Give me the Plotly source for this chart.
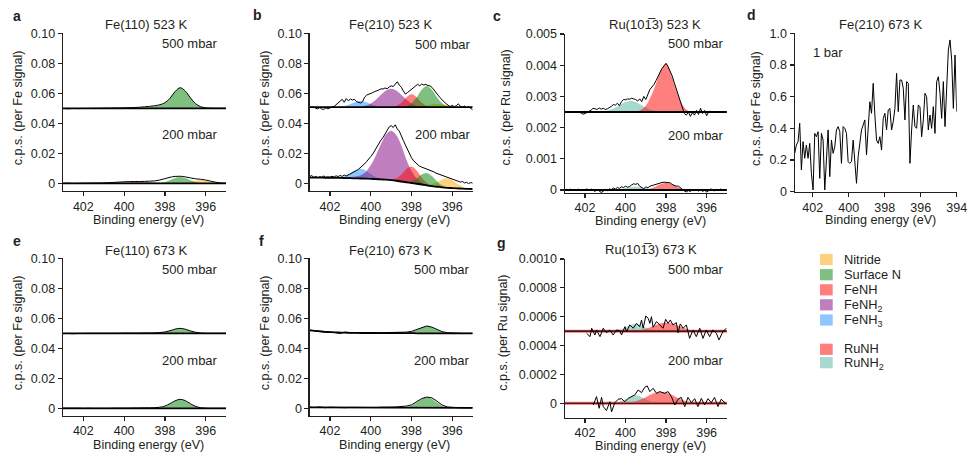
import plotly.graph_objects as go

W, H = 977, 453
FONT = "Liberation Sans, Arial, Helvetica, sans-serif"
INK = "#231F20"

# ---------------------------------------------------------------- data
E_FIT = [403.0, 402.75, 402.5, 402.25, 402.0, 401.75, 401.5, 401.25, 401.0, 400.75,
         400.5, 400.25, 400.0, 399.75, 399.5, 399.25, 399.0, 398.75, 398.5, 398.25,
         398.0, 397.75, 397.5, 397.25, 397.0, 396.75, 396.5, 396.25, 396.0, 395.75,
         395.5, 395.25, 395.0]
E_FINE = [round(403.0 - 0.1 * i, 1) for i in range(81)]

# (a) Fe(110) 523 K
a500_base = 0.0500
a500_surfN = [0, 0, 0, 0, 0, 0, 0, 0, 0, 0, 0, 0, 0, 0, 0, 0.0003, 0.0006, 0.0009, 0.0013, 0.0022,
              0.0035, 0.0066, 0.0113, 0.0137, 0.0115, 0.0069, 0.0029, 0.0009, 0.0002, 0, 0, 0, 0]
a500_data = [0.0499, 0.0497, 0.0499, 0.0498, 0.0499, 0.0499, 0.0500, 0.0500, 0.0501, 0.0501,
             0.0502, 0.0502, 0.0503, 0.0504, 0.0505, 0.0507, 0.0510, 0.0513, 0.0517, 0.0524,
             0.0537, 0.0567, 0.0612, 0.0637, 0.0615, 0.0570, 0.0531, 0.0511, 0.0503, 0.0501,
             0.0500, 0.0500, 0.0500]
a200_base = 0.0
a200_feNH2 = [0, 0, 0, 0, 0, 0, 0, 0, 0.00004, 0.00009, 0.00018, 0.00034, 0.00054, 0.00076,
              0.00093, 0.0010, 0.00093, 0.00076, 0.00054, 0.00034, 0.00018, 0.00009, 0.00004,
              0, 0, 0, 0, 0, 0, 0, 0, 0, 0]
a200_surfN = [0, 0, 0, 0, 0, 0, 0, 0, 0, 0, 0, 0, 0, 0, 0, 0, 0, 0, 0.00005, 0.00026, 0.00088,
              0.0021, 0.0035, 0.0042, 0.0035, 0.0021, 0.00088, 0.00026, 0.00005, 0, 0, 0, 0]
a200_nitride = [0, 0, 0, 0, 0, 0, 0, 0, 0, 0, 0, 0, 0, 0, 0, 0, 0, 0, 0, 0, 0, 0, 0.00003,
                0.00014, 0.00046, 0.0011, 0.00185, 0.0022, 0.00185, 0.0011, 0.00046, 0.00014, 0.00003]
a200_data = [0.0000, 0.0001, -0.0001, 0.0000, 0.0001, 0.0001, 0.0002, 0.0002, 0.0003, 0.0004,
             0.0006, 0.0008, 0.0010, 0.0011, 0.0012, 0.0012, 0.0013, 0.0014, 0.0016, 0.0022,
             0.0031, 0.0040, 0.0046, 0.0047, 0.0043, 0.0036, 0.0030, 0.0027, 0.0022, 0.0014,
             0.0007, 0.0002, 0.0001]

# (b) Fe(210) 523 K
b500_base = 0.0508
b500_feNH3 = [0, 0, 0, 0, 0, 0.00005, 0.00025, 0.00084, 0.0020, 0.00336, 0.0040, 0.00336, 0.0020,
              0.00084, 0.00025, 0.00005, 0, 0, 0, 0, 0, 0, 0, 0, 0, 0, 0, 0, 0, 0, 0, 0, 0]
b500_feNH2 = [0, 0, 0, 0, 0, 0, 0, 0, 0, 0.00009, 0.0003, 0.00095, 0.0024, 0.0049, 0.0082, 0.0111,
              0.0123, 0.0111, 0.0082, 0.0049, 0.0024, 0.00095, 0.0003, 0.00009, 0, 0, 0, 0, 0, 0, 0, 0, 0]
b500_feNH = [0, 0, 0, 0, 0, 0, 0, 0, 0, 0, 0, 0, 0, 0, 0, 0, 0.00011, 0.00074, 0.0029, 0.0065,
             0.0085, 0.0065, 0.0029, 0.00074, 0.00011, 0, 0, 0, 0, 0, 0, 0, 0]
b500_surfN = [0, 0, 0, 0, 0, 0, 0, 0, 0, 0, 0, 0, 0, 0, 0, 0, 0, 0, 0.00012, 0.00064, 0.0025,
              0.0065, 0.01155, 0.0140, 0.01155, 0.0065, 0.0025, 0.00064, 0.00012, 0, 0, 0, 0]
b500_nitride = [0, 0, 0, 0, 0, 0, 0, 0, 0, 0, 0, 0, 0, 0, 0, 0, 0, 0, 0, 0, 0.0001, 0.00029,
                0.00068, 0.00124, 0.00177, 0.0020, 0.00177, 0.00124, 0.00068, 0.00029, 0.0001, 0, 0]
b500_data = [0.0507, 0.0505, 0.0508, 0.0500, 0.0496, 0.0505, 0.0495, 0.0493, 0.0503, 0.0496,
             0.0505, 0.0509, 0.0512, 0.0524, 0.0532, 0.0545, 0.0560, 0.0540, 0.0565, 0.0550,
             0.0562, 0.0555, 0.0560, 0.0545, 0.0538, 0.0535, 0.0545, 0.0575, 0.0588, 0.0592,
             0.0600, 0.0605, 0.0612, 0.0615, 0.0622, 0.0630, 0.0628, 0.0636, 0.0630, 0.0642,
             0.0650, 0.0645, 0.0660, 0.0677, 0.0655, 0.0640, 0.0615, 0.0595, 0.0605, 0.0615,
             0.0628, 0.0638, 0.0648, 0.0660, 0.0650, 0.0662, 0.0655, 0.0660, 0.0652, 0.0650,
             0.0640, 0.0625, 0.0605, 0.0588, 0.0570, 0.0556, 0.0540, 0.0530, 0.0520, 0.0512,
             0.0520, 0.0510, 0.0518, 0.0530, 0.0512, 0.0508, 0.0515, 0.0505, 0.0510, 0.0502,
             0.0490]
b200_base = [0.0038, 0.0038, 0.0038, 0.0037, 0.0037, 0.0036, 0.0036, 0.0035, 0.0034, 0.0033,
             0.0032, 0.0031, 0.0030, 0.0028, 0.0026, 0.0024, 0.0021, 0.0017, 0.0012, 0.0007,
             0.0002, -0.0003, -0.0008, -0.0014, -0.0019, -0.0023, -0.0027, -0.0030, -0.0032,
             -0.0034, -0.0036, -0.0037, -0.0038]
b200_feNH3 = [0, 0, 0, 0, 0, 0.0001, 0.0004, 0.0014, 0.00325, 0.0055, 0.0065, 0.0055, 0.00325,
              0.0014, 0.0004, 0.0001, 0, 0, 0, 0, 0, 0, 0, 0, 0, 0, 0, 0, 0, 0, 0, 0, 0]
b200_feNH2 = [0.0006, 0.0006, 0.0006, 0.0006, 0.0006, 0.0006, 0.0006, 0.0006, 0.0008, 0.0012,
              0.0022, 0.0045, 0.0090, 0.0158, 0.0236, 0.0302, 0.0330, 0.0305, 0.0240, 0.0150,
              0.0080, 0.0035, 0.0012, 0.0004, 0.0001, 0, 0, 0, 0, 0, 0, 0, 0]
b200_feNH = [0, 0, 0, 0, 0, 0, 0, 0, 0, 0, 0, 0, 0, 0, 0, 0.00005, 0.00036, 0.0016, 0.0047, 0.0089,
             0.0110, 0.0089, 0.0047, 0.0016, 0.00036, 0.00005, 0, 0, 0, 0, 0, 0, 0]
b200_surfN = [0, 0, 0, 0, 0, 0, 0, 0, 0, 0, 0, 0, 0, 0, 0, 0, 0, 0, 0.00004, 0.00027, 0.0012,
              0.0035, 0.0067, 0.0083, 0.0067, 0.0035, 0.0012, 0.00027, 0.00004, 0, 0, 0, 0]
b200_nitride = [0, 0, 0, 0, 0, 0, 0, 0, 0, 0, 0, 0, 0, 0, 0, 0, 0, 0, 0, 0, 0, 0, 0.00008, 0.0004,
                0.0013, 0.00315, 0.0053, 0.0063, 0.0053, 0.00315, 0.0013, 0.0004, 0.00008]
b200_data = [0.0045, 0.0052, 0.0040, 0.0046, 0.0038, 0.0044, 0.0041, 0.0049, 0.0039, 0.0043,
             0.0040, 0.0047, 0.0042, 0.0050, 0.0045, 0.0052, 0.0046, 0.0055, 0.0049, 0.0056,
             0.0060, 0.0066, 0.0075, 0.0085, 0.0094, 0.0105, 0.0115, 0.0130, 0.0146, 0.0160,
             0.0178, 0.0196, 0.0220, 0.0242, 0.0262, 0.0288, 0.0305, 0.0330, 0.0352, 0.0375,
             0.0385, 0.0372, 0.0390, 0.0362, 0.0348, 0.0310, 0.0285, 0.0255, 0.0225, 0.0195,
             0.0170, 0.0150, 0.0136, 0.0125, 0.0113, 0.0108, 0.0103, 0.0100, 0.0094, 0.0088,
             0.0080, 0.0076, 0.0068, 0.0063, 0.0058, 0.0052, 0.0046, 0.0042, 0.0040, 0.0034,
             0.0030, 0.0026, 0.0018, 0.0015, 0.0008, 0.0012, 0.0002, 0.0007, -0.0002, 0.0005,
             0.0001]

# (c) Ru(10-13) 523 K
c500_base = 0.0025
c500_ruNH = [0, 0, 0, 0, 0, 0, 0, 0, 0, 0, 0, 0, 0, 0, 0.00001, 0.00006, 0.0002, 0.0005, 0.0009,
             0.00135, 0.00155, 0.0012, 0.0007, 0.0003, 0.00008, 0.00001, 0, 0, 0, 0, 0, 0, 0]
c500_ruNH2 = [0, 0, 0, 0, 0, 0, 0, 0, 0.00003, 0.00007, 0.00014, 0.00023, 0.00032, 0.00035,
              0.00032, 0.00023, 0.00014, 0.00007, 0.00003, 0, 0, 0, 0, 0, 0, 0, 0, 0, 0, 0, 0, 0, 0]
c500_data = [0.00250, 0.00250, 0.00251, 0.00250, 0.00250, 0.00249, 0.00250, 0.00250, 0.00247,
             0.00243, 0.00245, 0.00250, 0.00252, 0.00256, 0.00262, 0.00260, 0.00258, 0.00263,
             0.00259, 0.00262, 0.00258, 0.00260, 0.00263, 0.00268, 0.00274, 0.00272, 0.00278,
             0.00270, 0.00283, 0.00290, 0.00289, 0.00292, 0.00291, 0.00294, 0.00292, 0.00290,
             0.00285, 0.00292, 0.00283, 0.00300, 0.00290, 0.00305, 0.00322, 0.00330, 0.00338,
             0.00350, 0.00365, 0.00378, 0.00390, 0.00398, 0.00406, 0.00395, 0.00380, 0.00366,
             0.00345, 0.00326, 0.00300, 0.00282, 0.00262, 0.00245, 0.00240, 0.00250, 0.00236,
             0.00248, 0.00240, 0.00255, 0.00242, 0.00262, 0.00245, 0.00255, 0.00238, 0.00250,
             0.00252, 0.00249, 0.00251, 0.00250, 0.00249, 0.00251, 0.00250, 0.00250, 0.00250]
c200_base = 0.0
c200_ruNH = [0, 0, 0, 0, 0, 0, 0, 0, 0, 0, 0, 0, 0, 0, 0, 0, 0.000014, 0.00005, 0.000115, 0.00019,
             0.00023, 0.00019, 0.000115, 0.00005, 0.000014, 0, 0, 0, 0, 0, 0, 0, 0]
c200_ruNH2 = [0, 0, 0, 0, 0, 0, 0, 0, 0, 0, 0.000015, 0.00003, 0.00006, 0.00009, 0.0001, 0.00009,
              0.00006, 0.00003, 0.000015, 0, 0, 0, 0, 0, 0, 0, 0, 0, 0, 0, 0, 0, 0]
c200_data = [0.00000, 0.00002, -0.00002, 0.00003, -0.00001, 0.00002, 0.00000, 0.00003, -0.00002,
             0.00001, -0.00002, 0.00004, -0.00002, 0.00003, 0.00000, -0.00005, 0.00002, -0.00003,
             -0.00008, -0.00004, 0.00002, -0.00003, 0.00004, 0.00001, 0.00006, 0.00003, 0.00008,
             0.00005, 0.00010, 0.00008, 0.00012, 0.00009, 0.00011, 0.00016, 0.00020, 0.00018,
             0.00021, 0.00012, 0.00008, 0.00004, 0.00010, 0.00007, 0.00012, 0.00014, 0.00018,
             0.00020, 0.00022, 0.00023, 0.00024, 0.00025, 0.00024, 0.00022, 0.00023, 0.00018,
             0.00016, 0.00012, 0.00013, 0.00006, 0.00002, -0.00003, -0.00006, -0.00002, -0.00005,
             0.00002, -0.00002, 0.00001, -0.00004, 0.00003, -0.00005, 0.00000, -0.00007, -0.00002,
             0.00003, 0.00001, -0.00003, 0.00002, 0.00000, 0.00003, -0.00001, 0.00001, 0.00000]

# (d) Fe(210) 673 K, 1 bar
d_vals = [0.242, 0.295, 0.316, 0.432, 0.137, 0.316, 0.211, 0.295, 0.211, 0.305,
          0.116, 0.011, 0.368, 0.347, 0.379, 0.084, 0.368, 0.326, 0.011, 0.179,
          0.390, 0.095, 0.326, 0.242, 0.284, 0.390, 0.411, 0.379, 0.179, 0.411,
          0.400, 0.368, 0.190, 0.179, 0.190, 0.326, 0.179, 0.053, 0.221, 0.326,
          0.390, 0.421, 0.453, 0.232, 0.442, 0.568, 0.495, 0.684, 0.484, 0.326,
          0.305, 0.347, 0.263, 0.463, 0.495, 0.390, 0.516, 0.526, 0.390, 0.442,
          0.526, 0.747, 0.505, 0.705, 0.705, 0.653, 0.453, 0.695, 0.684, 0.179,
          0.390, 0.547, 0.411, 0.400, 0.547, 0.537, 0.347, 0.453, 0.621, 0.600,
          0.390, 0.484, 0.400, 0.537, 0.368, 0.695, 0.726, 0.621, 0.463, 0.695,
          0.411, 0.663, 0.895, 0.958, 0.832, 0.526, 0.863, 0.505]
d_E = [403.0 - 9.0 * i / (len(d_vals) - 1) for i in range(len(d_vals))]

# (e) Fe(110) 673 K
e500_base = 0.0500
e500_surfN = [0, 0, 0, 0, 0, 0, 0, 0, 0, 0, 0, 0, 0, 0, 0, 0.0001, 0.00015, 0.0002, 0.00004,
              0.0002, 0.0007, 0.00165, 0.00278, 0.0033, 0.00278, 0.00165, 0.0007, 0.0002, 0.00004,
              0, 0, 0, 0]
e500_data = [0.0498, 0.0499, 0.0497, 0.0499, 0.0499, 0.0500, 0.0500, 0.0500, 0.0500, 0.0500,
             0.0500, 0.0500, 0.0501, 0.0501, 0.0501, 0.0501, 0.0502, 0.0502, 0.0503, 0.0505,
             0.0509, 0.0517, 0.0528, 0.0533, 0.0527, 0.0516, 0.0507, 0.0502, 0.0500, 0.0500,
             0.0500, 0.0500, 0.0500]
e200_base = 0.0
e200_surfN = [0, 0, 0, 0, 0, 0, 0, 0, 0, 0, 0, 0, 0, 0, 0, 0, 0, 0, 0.00008, 0.00036, 0.00122,
              0.0029, 0.00488, 0.0058, 0.00488, 0.0029, 0.00122, 0.00036, 0.00008, 0, 0, 0, 0]
e200_data = [0.0001, 0.0001, 0.0001, 0.0001, 0.0000, 0.0001, 0.0000, 0.0000, 0.0000, 0.0000,
             0.0001, 0.0001, 0.0001, 0.0001, 0.0002, 0.0002, 0.0003, 0.0003, 0.0004, 0.0007,
             0.0015, 0.0031, 0.0050, 0.0060, 0.0051, 0.0031, 0.0013, 0.0004, 0.0001, 0.0000,
             0.0000, 0.0000, 0.0000]

# (f) Fe(210) 673 K
f500_base = [0.0520, 0.0516, 0.0513, 0.0510, 0.0508, 0.0506, 0.0505, 0.0504, 0.0503, 0.0503,
             0.0502, 0.0502, 0.0502, 0.0502, 0.0501, 0.0501, 0.0501, 0.0501, 0.0501, 0.0501,
             0.0501, 0.0500, 0.0500, 0.0500, 0.0500, 0.0500, 0.0500, 0.0500, 0.0500, 0.0500,
             0.0500, 0.0500, 0.0500]
f500_surfN = [0, 0, 0, 0, 0, 0, 0, 0, 0, 0, 0, 0, 0, 0, 0, 0, 0, 0, 0.00006, 0.0003, 0.0010,
              0.0024, 0.0040, 0.0048, 0.0040, 0.0024, 0.0010, 0.0003, 0.00006, 0, 0, 0, 0]
f500_data = [0.0521, 0.0515, 0.0514, 0.0509, 0.0508, 0.0505, 0.0499, 0.0508, 0.0503, 0.0504,
             0.0502, 0.0503, 0.0502, 0.0503, 0.0502, 0.0503, 0.0503, 0.0504, 0.0506, 0.0508,
             0.0513, 0.0525, 0.0541, 0.0549, 0.0541, 0.0525, 0.0511, 0.0504, 0.0501, 0.0501,
             0.0500, 0.0500, 0.0500]
f200_base = [0.0006, 0.0006, 0.0006, 0.0005, 0.0005, 0.0005, 0.0005, 0.0005, 0.0005, 0.0004,
             0.0004, 0.0004, 0.0004, 0.0004, 0.0004, 0.0004, 0.0004, 0.0004, 0.0004, 0.0004,
             0.0004, 0.0003, 0.0003, 0.0003, 0.0003, 0.0003, 0.0003, 0.0003, 0.0003, 0.0003,
             0.0003, 0.0003, 0.0003]
f200_surfN = [0, 0, 0, 0, 0, 0, 0, 0, 0, 0, 0, 0, 0, 0, 0, 0, 0, 0, 0.0001, 0.00044, 0.00147,
              0.0035, 0.0059, 0.0070, 0.0059, 0.0035, 0.00147, 0.00044, 0.0001, 0, 0, 0, 0]
f200_data = [0.0008, 0.0005, 0.0009, 0.0004, 0.0007, 0.0005, 0.0006, 0.0004, 0.0006, 0.0005,
             0.0007, 0.0005, 0.0006, 0.0005, 0.0007, 0.0006, 0.0008, 0.0009, 0.0011, 0.0015,
             0.0023, 0.0043, 0.0065, 0.0075, 0.0070, 0.0047, 0.0022, 0.0009, 0.0005, 0.0004,
             0.0003, 0.0004, 0.0003]

# (g) Ru(10-13) 673 K
g500_base = 0.0005
g500_ruNH = [0, 0, 0, 0, 0, 0, 0, 0, 0, 0, 0, 0, 0, 0.0000013, 0.0000036, 0.0000085, 0.000017,
             0.000029, 0.000043, 0.000054, 0.000058, 0.000054, 0.000043, 0.000029, 0.000017,
             0.0000085, 0.0000036, 0.0000013, 0, 0, 0, 0, 0]
g500_ruNH2 = [0, 0, 0, 0, 0, 0, 0, 0, 0, 0, 0.000003, 0.0000105, 0.000025, 0.000042, 0.00005,
              0.000042, 0.000025, 0.0000105, 0.000003, 0, 0, 0, 0, 0, 0, 0, 0, 0, 0, 0, 0, 0, 0]
g500_E = [401.92, 401.75, 401.67, 401.51, 401.43, 401.26, 401.10, 400.94, 400.77, 400.61,
          400.45, 400.28, 400.20, 400.03, 399.95, 399.79, 399.62, 399.46, 399.30, 399.21,
          399.13, 399.00, 398.88, 398.80, 398.72, 398.64, 398.47, 398.31, 398.15, 398.02,
          397.90, 397.79, 397.66, 397.49, 397.41, 397.30, 397.16, 397.00, 396.84, 396.67,
          396.51, 396.34, 396.18, 396.02, 395.85, 395.69, 395.52, 395.39, 395.20, 395.03]
g500_data = [4.85e-4, 4.62e-4, 5.20e-4, 4.73e-4, 5.08e-4, 4.62e-4, 5.20e-4, 4.89e-4, 5.08e-4, 4.73e-4,
             5.08e-4, 5.03e-4, 4.73e-4, 5.31e-4, 4.96e-4, 5.43e-4, 5.20e-4, 5.54e-4, 5.31e-4, 5.77e-4,
             5.20e-4, 6.05e-4, 5.89e-4, 5.54e-4, 6.00e-4, 5.27e-4, 5.66e-4, 5.43e-4, 5.20e-4, 5.82e-4,
             5.54e-4, 5.77e-4, 5.43e-4, 5.59e-4, 4.89e-4, 5.50e-4, 5.20e-4, 5.43e-4, 4.50e-4, 5.08e-4,
             4.62e-4, 5.20e-4, 4.50e-4, 5.08e-4, 4.62e-4, 5.08e-4, 4.85e-4, 4.39e-4, 4.96e-4, 5.20e-4]
g200_base = 0.0
g200_ruNH = [0, 0, 0, 0, 0, 0, 0, 0, 0, 0, 0, 0.000001, 0.0000027, 0.0000066, 0.000014, 0.000026,
             0.000042, 0.00006, 0.000073, 0.000078, 0.000073, 0.00006, 0.000042, 0.000026,
             0.000014, 0.0000066, 0.0000027, 0.000001, 0, 0, 0, 0, 0]
g200_ruNH2 = [0, 0, 0, 0, 0, 0, 0, 0, 0, 0, 0.0000034, 0.0000116, 0.0000275, 0.000046, 0.000055,
              0.000046, 0.0000275, 0.0000116, 0.0000034, 0, 0, 0, 0, 0, 0, 0, 0, 0, 0, 0, 0, 0, 0]
g200_E = [401.59, 401.43, 401.30, 401.18, 401.10, 400.94, 400.77, 400.69, 400.53, 400.36,
          400.20, 400.03, 399.87, 399.70, 399.54, 399.38, 399.21, 399.05, 398.93, 398.80,
          398.64, 398.47, 398.31, 398.07, 397.90, 397.74, 397.57, 397.41, 397.25, 397.08,
          396.92, 396.75, 396.59, 396.43, 396.26, 396.10, 395.93, 395.77, 395.61, 395.44,
          395.28, 395.03]
g200_data = [-0.12e-4, 0.46e-4, -0.35e-4, 0.41e-4, -0.23e-4, -0.50e-4, 0.11e-4, -0.60e-4, 0.04e-4,
             0.28e-4, 0.32e-4, 0.11e-4, 0.34e-4, 0.46e-4, 0.58e-4, 0.92e-4, 0.74e-4, 1.11e-4,
             1.20e-4, 0.81e-4, 1.04e-4, 0.69e-4, 0.81e-4, 0.69e-4, 0.81e-4, 0.46e-4, -0.12e-4,
             0.28e-4, 0.41e-4, -0.23e-4, 0.41e-4, 0.04e-4, 0.32e-4, -0.23e-4, 0.34e-4, -0.12e-4,
             0.32e-4, 0.04e-4, 0.41e-4, -0.23e-4, 0.28e-4, -0.05e-4]

# legend
LEGEND_LABELS = ["Nitride", "Surface N", "FeNH", "FeNH<sub>2</sub>", "FeNH<sub>3</sub>",
                 "RuNH", "RuNH<sub>2</sub>"]

# component colours (drawn at 50 % opacity)
NITRIDE = (255, 165, 0)
SURFN = (0, 128, 0)
FENH = (255, 0, 0)
FENH2 = (128, 0, 128)
FENH3 = (30, 144, 255)
RUNH = (255, 0, 0)
RUNH2 = (80, 180, 160)
LEGEND_COLORS = [NITRIDE, SURFN, FENH, FENH2, FENH3, RUNH, RUNH2]

FE_YT = [0, 0.02, 0.04, 0.06, 0.08, 0.10]
FE_YL = ["0", "0.02", "0.04", "0.06", "0.08", "0.10"]
C_YT = [0, 0.001, 0.002, 0.003, 0.004, 0.005]
C_YL = ["0", "0.001", "0.002", "0.003", "0.004", "0.005"]
G_YT = [0, 0.0002, 0.0004, 0.0006, 0.0008, 0.0010]
G_YL = ["0", "0.0002", "0.0004", "0.0006", "0.0008", "0.0010"]
D_YT = [0, 0.2, 0.4, 0.6, 0.8, 1.0]
D_YL = ["0", "0.2", "0.4", "0.6", "0.8", "1.0"]
X_T = [402, 400, 398, 396]
D_XT = [402, 400, 398, 396, 394]

for arr in [a500_data, a200_data, e500_data, e200_data, f500_data, f200_data, b200_base]:
    assert len(arr) == 33
for arr in [b500_data, b200_data, c500_data, c200_data]:
    assert len(arr) == 81, len(arr)

# ---------------------------------------------------------------- figure
fig = go.Figure()


def refs(k):
    return dict(xaxis="x" if k == 1 else f"x{k}", yaxis="y" if k == 1 else f"y{k}")


def rgba(c, a=0.5):
    return f"rgba({c[0]},{c[1]},{c[2]},{a})"


def add_band(k, E, base, h, col):
    b = base if isinstance(base, list) else [base] * len(E)
    fig.add_trace(go.Scatter(x=E, y=b, mode="lines", line=dict(width=0, shape="spline"),
                             hoverinfo="skip", showlegend=False, **refs(k)))
    top = [bb + v for bb, v in zip(b, h)]
    fig.add_trace(go.Scatter(x=E, y=top, mode="lines", line=dict(width=0, shape="spline"),
                             fill="tonexty", fillcolor=rgba(col), hoverinfo="skip",
                             showlegend=False, **refs(k)))


def add_line(k, E, y, width=1.0, color="black", shape="linear"):
    if not isinstance(y, list):
        y = [y] * len(E)
    fig.add_trace(go.Scatter(x=E, y=y, mode="lines", line=dict(width=width, color=color, shape=shape),
                             hoverinfo="skip", showlegend=False, **refs(k)))


# a
add_band(1, E_FIT, a500_base, a500_surfN, SURFN)
add_line(1, E_FIT, a500_base, 1.8)
add_line(1, E_FIT, a500_data, 1.0, shape="spline")
add_band(1, E_FIT, a200_base, a200_feNH2, FENH2)
add_band(1, E_FIT, a200_base, a200_nitride, NITRIDE)
add_band(1, E_FIT, a200_base, a200_surfN, SURFN)
add_line(1, E_FIT, a200_base, 1.8)
add_line(1, E_FIT, a200_data, 1.0, shape="spline")

# b
for comp, col in [(b500_feNH3, FENH3), (b500_feNH2, FENH2), (b500_nitride, NITRIDE),
                  (b500_feNH, FENH), (b500_surfN, SURFN)]:
    add_band(2, E_FIT, b500_base, comp, col)
add_line(2, E_FIT, b500_base, 1.8)
add_line(2, E_FINE, b500_data, 1.0)
for comp, col in [(b200_feNH3, FENH3), (b200_feNH2, FENH2), (b200_nitride, NITRIDE),
                  (b200_feNH, FENH), (b200_surfN, SURFN)]:
    add_band(2, E_FIT, b200_base, comp, col)
add_line(2, E_FIT, b200_base, 1.8, shape="spline")
add_line(2, E_FINE, b200_data, 1.0)

# c
add_band(3, E_FIT, c500_base, c500_ruNH2, RUNH2)
add_band(3, E_FIT, c500_base, c500_ruNH, RUNH)
add_line(3, E_FIT, c500_base, 1.8)
add_line(3, E_FINE, c500_data, 1.0)
add_band(3, E_FIT, c200_base, c200_ruNH2, RUNH2)
add_band(3, E_FIT, c200_base, c200_ruNH, RUNH)
add_line(3, E_FIT, c200_base, 1.8)
add_line(3, E_FINE, c200_data, 1.0)

# d
add_line(4, d_E, d_vals, 1.0)

# e
add_band(5, E_FIT, e500_base, e500_surfN, SURFN)
add_line(5, E_FIT, e500_base, 1.8)
add_line(5, E_FIT, e500_data, 1.0, shape="spline")
add_band(5, E_FIT, e200_base, e200_surfN, SURFN)
add_line(5, E_FIT, e200_base, 1.8)
add_line(5, E_FIT, e200_data, 1.0, shape="spline")

# f
add_band(6, E_FIT, f500_base, f500_surfN, SURFN)
add_line(6, E_FIT, f500_base, 1.8, shape="spline")
add_line(6, E_FIT, f500_data, 1.0)
add_band(6, E_FIT, f200_base, f200_surfN, SURFN)
add_line(6, E_FIT, f200_base, 1.8)
add_line(6, E_FIT, f200_data, 1.0)

# g
add_band(7, E_FIT, g500_base, g500_ruNH2, RUNH2)
add_band(7, E_FIT, g500_base, g500_ruNH, RUNH)
add_line(7, E_FIT, g500_base, 3.0, color="rgba(255,110,110,1)")
add_line(7, E_FIT, g500_base, 1.2)
add_line(7, g500_E, g500_data, 1.0)
add_band(7, E_FIT, g200_base, g200_ruNH2, RUNH2)
add_band(7, E_FIT, g200_base, g200_ruNH, RUNH)
add_line(7, E_FIT, g200_base, 3.0, color="rgba(255,110,110,1)")
add_line(7, E_FIT, g200_base, 1.2)
add_line(7, g200_E, g200_data, 1.0)

# ---------------------------------------------------------------- axes
# (key, box px: x0, x1, ytop, ybottom), x range, y range, x ticks, y ticks, y labels
PANELS = [
    (1, (62.9, 226.1, 33.3, 190.8), [403, 395], [-0.005, 0.10], X_T, FE_YT, FE_YL),
    (2, (309.6, 472.7, 33.3, 190.8), [403, 395], [-0.005, 0.10], X_T, FE_YT, FE_YL),
    (3, (564.7, 726.9, 34.0, 193.1), [403, 395], [-0.0001, 0.005], X_T, C_YT, C_YL),
    (4, (794.7, 956.7, 33.3, 191.7), [403, 394], [0, 1.0], D_XT, D_YT, D_YL),
    (5, (62.9, 226.1, 258.3, 415.8), [403, 395], [-0.005, 0.10], X_T, FE_YT, FE_YL),
    (6, (309.6, 472.7, 258.3, 415.8), [403, 395], [-0.005, 0.10], X_T, FE_YT, FE_YL),
    (7, (564.7, 726.9, 259.0, 417.7), [403, 395], [-0.0001, 0.001], X_T, G_YT, G_YL),
]

axis_common = dict(showline=True, linecolor=INK, linewidth=1.2, ticks="outside", ticklen=4,
                   tickwidth=1.2, tickcolor=INK, showgrid=False, zeroline=False, automargin=False,
                   tickfont=dict(family=FONT, size=12.5, color=INK), fixedrange=True)
layout_axes = {}
for k, (x0, x1, yt, yb), xr, yr, xt, ytv, ytl in PANELS:
    xn = "xaxis" if k == 1 else f"xaxis{k}"
    yn = "yaxis" if k == 1 else f"yaxis{k}"
    layout_axes[xn] = dict(domain=[x0 / W, x1 / W], range=xr, anchor="y" if k == 1 else f"y{k}",
                           tickmode="array", tickvals=xt, ticktext=[str(v) for v in xt],
                           ticklabelstandoff=-1 if k in (3, 5, 6, 7) else 0, **axis_common)
    layout_axes[yn] = dict(domain=[1 - yb / H, 1 - yt / H], range=yr, anchor="x" if k == 1 else f"x{k}",
                           tickmode="array", tickvals=ytv, ticktext=ytl, **axis_common)

# ---------------------------------------------------------------- text
ann = []


def text(x, y, s, size=13, xanchor="center", bold=False, angle=0):
    ann.append(dict(x=x / W, y=1 - y / H, xref="paper", yref="paper", text=f"<b>{s}</b>" if bold else s,
                    showarrow=False, xanchor=xanchor, yanchor="middle", textangle=angle,
                    font=dict(family=FONT, size=size, color=INK)))


for s, x, y in [("a", 17, 16), ("b", 257, 15.5), ("c", 497, 16.5), ("d", 751, 15.5),
                ("e", 17, 241.5), ("f", 261, 240.5), ("g", 501, 243)]:
    text(x, y, s, size=14, bold=True)

RU = "Ru(101\u03053)"
for s, x, y in [("Fe(110) 523 K", 146, 25), ("Fe(210) 523 K", 390, 25), (RU + " 523 K", 655, 25),
                ("Fe(210) 673 K", 880, 25), ("Fe(110) 673 K", 146, 250), ("Fe(210) 673 K", 390, 250),
                (RU + " 673 K", 651, 249.5)]:
    text(x, y, s, size=13)

for xr_, y5, y2 in [(220, 43.7, 135), (473, 44, 135), (726, 43.5, 135.7),
                    (220, 269.3, 360), (472, 269.3, 360), (726, 269.3, 360)]:
    text(xr_, y5, "500 mbar", size=13, xanchor="right")
    text(xr_, y2, "200 mbar", size=13, xanchor="right")
text(827.5, 52.7, "1 bar", size=13)

for x, y, s in [(18, 108.3, "Fe"), (265, 108.3, "Fe"), (505, 107.5, "Ru"), (756.7, 108.3, "Fe"),
                (18, 333.3, "Fe"), (265, 333.3, "Fe"), (503.5, 333.3, "Ru")]:
    text(x, y, f"c.p.s. (per {s} signal)", size=12.6, angle=-90)

for x, y in [(148.7, 220), (394, 220), (650, 221), (880, 220), (148.7, 445), (394, 445), (650, 445.5)]:
    text(x, y, "Binding energy (eV)", size=12.6)

# legend (manual)
shapes = []
LEG_ROWS_Y = [259.5, 274.7, 289.8, 304.8, 320.0, 349.3, 362.7]
LEG_TEXT_Y = [259.5, 274.7, 289.8, 305.3, 320.5, 348.8, 363.5]
for lab, col, yc, yt_ in zip(LEGEND_LABELS, LEGEND_COLORS, LEG_ROWS_Y, LEG_TEXT_Y):
    shapes.append(dict(type="rect", xref="paper", yref="paper", x0=820 / W, x1=832.7 / W,
                       y0=1 - (yc + 5.6) / H, y1=1 - (yc - 5.6) / H,
                       fillcolor=rgba(col), line=dict(width=0)))
    text(841.7, yt_, lab, size=12.8, xanchor="left")

fig.update_layout(width=W, height=H, autosize=False, margin=dict(l=0, r=0, t=0, b=0, pad=0),
                  paper_bgcolor="white", plot_bgcolor="white", showlegend=False,
                  annotations=ann, shapes=shapes, **layout_axes)

fig.write_html("out.html", config={"displayModeBar": False, "staticPlot": True},
               post_script="document.body.style.margin='0';document.body.style.overflow='hidden';")
